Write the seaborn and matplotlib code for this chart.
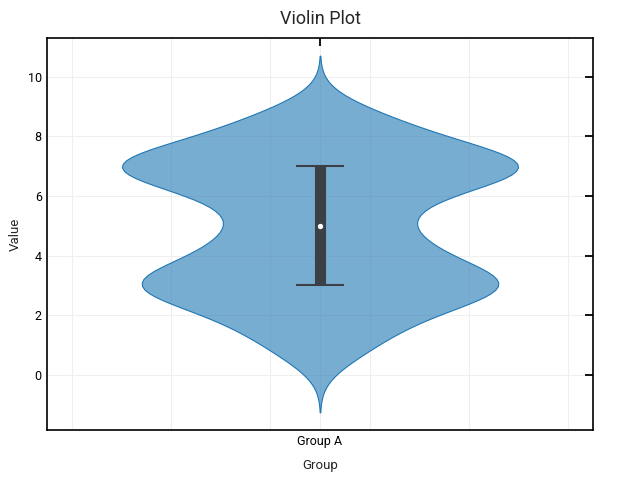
import numpy as np
import pandas as pd
import seaborn as sns
import matplotlib.pyplot as plt
from matplotlib.ticker import FixedLocator

# values (estimated sample, bimodal near 3 and 7)
groups = ["Group A"]
lower_values = [0.6, 1.15, 1.55, 1.85, 2.1, 2.35, 2.55, 2.75, 2.9, 3.0,
                3.0, 3.1, 3.25, 3.4, 3.6, 3.8, 4.05, 4.3, 4.55, 4.75]
upper_values = [5.25, 5.5, 5.85, 6.1, 6.3, 6.5, 6.65, 6.8, 6.9, 7.0,
                7.0, 7.1, 7.2, 7.35, 7.5, 7.7, 7.95, 8.2, 8.5, 8.85]
values = lower_values + upper_values
y_ticks = [0, 2, 4, 6, 8, 10]

df = pd.DataFrame({"Group": groups[0], "Value": values})

sns.set_style("white")
plt.rcParams["font.family"] = ["Roboto", "DejaVu Sans"]

fig = plt.figure(figsize=(6.4, 4.8), dpi=100)
ax = fig.add_axes([0.073, 0.104, 0.854, 0.817])

sns.violinplot(data=df, x="Group", y="Value", inner=None, width=0.4,
               bw_adjust=0.59, cut=2.85, color="#1f77b4", linewidth=0.8,
               ax=ax)
for c in ax.collections:
    c.set_facecolor((0.122, 0.467, 0.706, 0.6))
    c.set_edgecolor("#1f77b4")

# inner box: quartiles + median
q1, med, q3 = np.percentile(values, [25, 50, 75])
ax.vlines(0, q1, q3, color="#3b4046", linewidth=8, zorder=3)
ax.hlines([q1, q3], -0.024, 0.024, color="#3b4046", linewidth=1.5, zorder=3)
ax.scatter([0], [med], color="white", s=8, zorder=4)

ax.set_xlim(-0.276, 0.276)
ax.set_ylim(-1.85, 11.3)
ax.set_yticks(y_ticks)
ax.xaxis.set_minor_locator(FixedLocator([-0.25, -0.15, -0.05, 0.05, 0.15, 0.25]))
ax.grid(True, which="both", color="#efefef", linewidth=0.8)
ax.set_axisbelow(True)

ax.tick_params(which="major", direction="in", length=6, width=1.3,
               top=True, right=True, labelsize=9, colors="black")
ax.tick_params(which="minor", length=0)
for s in ax.spines.values():
    s.set_color("black")
    s.set_linewidth(1.2)

ax.set_title("Violin Plot", fontsize=13, pad=10)
ax.set_xlabel("Group", fontsize=9.5, labelpad=8)
ax.set_ylabel("Value", fontsize=9.5, labelpad=4)

fig.savefig("out.png", dpi=100)
